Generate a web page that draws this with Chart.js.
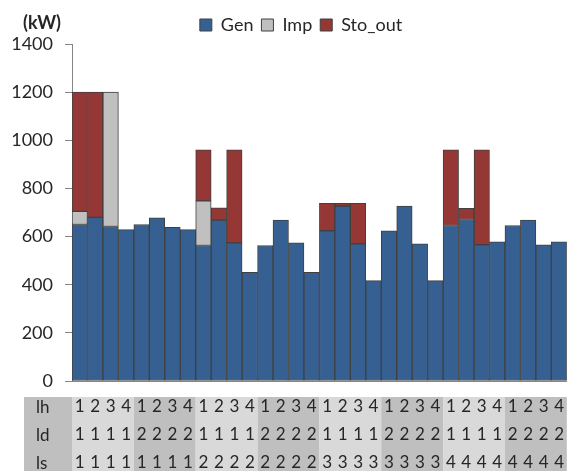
<!DOCTYPE html>
<html>
<head>
<meta charset="utf-8">
<script src="https://cdn.jsdelivr.net/npm/chart.js@4.4.1/dist/chart.umd.min.js"></script>
<style>
  html, body { margin: 0; padding: 0; background: #fff; }
  #wrap { width: 576px; height: 471px; }
</style>
</head>
<body>
<div id="wrap"><canvas id="potencia"></canvas></div>
<script>
// indices de la tabla bajo el eje
var lh = ['1','2','3','4','1','2','3','4','1','2','3','4','1','2','3','4','1','2','3','4','1','2','3','4','1','2','3','4','1','2','3','4'];
var ld = ['1','1','1','1','2','2','2','2','1','1','1','1','2','2','2','2','1','1','1','1','2','2','2','2','1','1','1','1','2','2','2','2'];
var ls = ['1','1','1','1','1','1','1','1','2','2','2','2','2','2','2','2','3','3','3','3','3','3','3','3','4','4','4','4','4','4','4','4'];
var rowNames = ['lh', 'ld', 'ls'];

// potencias (kW)
var gen = [650, 680, 642, 629, 650, 678, 638, 629, 563, 668, 574, 451, 563, 668, 574, 451,
           624, 727, 570, 417, 624, 727, 570, 417, 646, 671, 566, 578, 646, 668, 566, 578];
var imp = [55, null, 558, null, null, null, null, null, 185, null, null, null, null, null, null, null,
           null, null, null, null, null, null, null, null, null, null, null, null, null, null, null, null];
var stoOut = [495, 520, null, null, null, null, null, null, 212, 51, 386, null, null, null, null, null,
              114, 11, 168, null, null, null, null, null, 314, 46, 394, null, null, null, null, null];

var yTicks = [0, 200, 400, 600, 800, 1000, 1200, 1400];

var etiquetas = lh.map(function (v, i) { return [v, ld[i], ls[i]]; });

Chart.defaults.font.family = 'Lato';
Chart.defaults.color = '#262626';

// fondo de la tabla, nombres de fila y unidad
var tablaPlugin = {
    id: 'tabla',
    afterLayout: function (chart) {
        chart.legend.left += 13;
        chart.legend.right += 13;
    },
    beforeDraw: function (chart) {
        var ctx = chart.ctx;
        var x = chart.scales.x;
        var area = chart.chartArea;
        var top = area.bottom + 16;
        var bottom = chart.height;
        var w = x.getPixelForValue(1) - x.getPixelForValue(0);
        ctx.save();
        ctx.fillStyle = '#bfbfbf';
        ctx.fillRect(24, top, area.left - 24, bottom - top);
        for (var g = 0; g < lh.length / 4; g++) {
            var x0 = x.getPixelForValue(g * 4) - w / 2;
            ctx.fillStyle = g % 2 === 0 ? '#d9d9d9' : '#bfbfbf';
            ctx.fillRect(x0, top, w * 4, bottom - top);
        }
        ctx.fillStyle = '#262626';
        ctx.font = '17px Lato';
        ctx.textAlign = 'left';
        ctx.textBaseline = 'middle';
        rowNames.forEach(function (n, r) {
            ctx.fillText(n, 36, top + 11 + r * 28);
        });
        ctx.font = 'bold 18px Lato';
        ctx.textAlign = 'center';
        ctx.fillText('(kW)', 42, 23);
        ctx.restore();
    }
};

var potencia = new Chart(document.querySelector('#potencia'), {
    type: 'bar',
    data: {
        labels: etiquetas,
        datasets: [{
            label: 'Gen',
            data: gen,
            backgroundColor: '#376092'
        }, {
            label: 'Imp',
            data: imp,
            backgroundColor: '#c0c0c0'
        }, {
            label: 'Sto_out',
            data: stoOut,
            backgroundColor: '#953735'
        }]
    },
    options: {
        responsive: true,
        maintainAspectRatio: false,
        animation: false,
        layout: { padding: { top: 8, left: 0, right: 0, bottom: 0 } },
        datasets: {
            bar: {
                categoryPercentage: 1,
                barPercentage: 1,
                borderWidth: 1,
                borderColor: '#404040',
                borderSkipped: false
            }
        },
        plugins: {
            legend: {
                position: 'top',
                labels: {
                    boxWidth: 12,
                    boxHeight: 12,
                    padding: 8,
                    font: { size: 18 }
                }
            },
            tooltip: { enabled: false }
        },
        scales: {
            x: {
                stacked: true,
                grid: { display: false, drawTicks: false },
                border: { color: '#868686' },
                ticks: {
                    autoSkip: false,
                    maxRotation: 0,
                    padding: 12,
                    font: { size: 17, lineHeight: 28 / 17 }
                },
                afterFit: function (scale) { scale.height = 90; }
            },
            y: {
                stacked: true,
                min: 0,
                max: 1400,
                afterBuildTicks: function (scale) {
                    scale.ticks = yTicks.map(function (v) { return { value: v }; });
                },
                grid: { drawOnChartArea: false, tickLength: 7, color: '#868686' },
                border: { color: '#868686' },
                ticks: {
                    padding: 12,
                    font: { size: 18 },
                    callback: function (v) { return String(v); }
                },
                afterFit: function (scale) { scale.width = 72; }
            }
        }
    },
    plugins: [tablaPlugin]
});
</script>
</body>
</html>
